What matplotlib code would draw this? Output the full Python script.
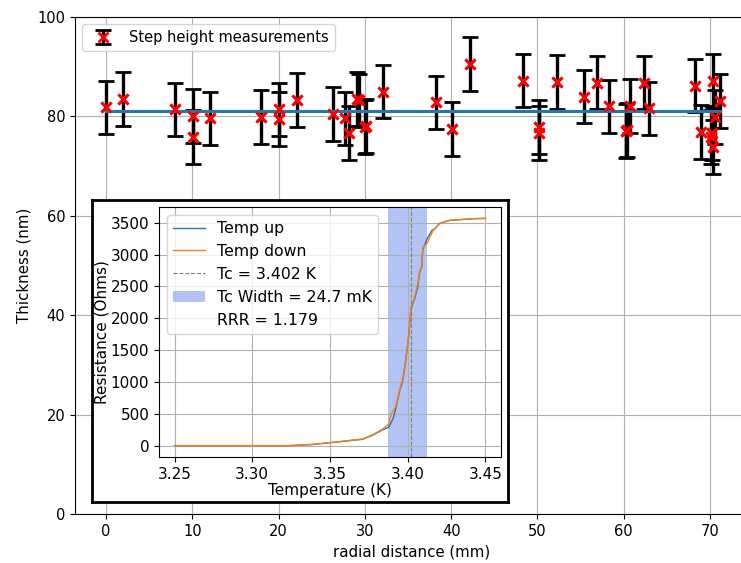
import numpy as np
import matplotlib
matplotlib.use("Agg")
import matplotlib.pyplot as plt

# step height data
radial = [0.0, 2.0, 8.0, 10.1, 10.1, 12.1, 18.0, 20.1, 20.1, 22.1, 26.3, 27.7,
          28.2, 29.1, 29.3, 30.0, 30.1, 32.1, 38.2, 40.1, 42.2, 48.3, 50.2, 50.2,
          52.3, 55.4, 56.9, 58.3, 60.4, 60.3, 60.7, 62.3, 62.9, 68.3, 68.9, 70.3,
          71.1, 70.6, 70.1, 70.3, 70.2]
thickness = [81.8, 83.5, 81.4, 80.1, 75.9, 79.6, 79.9, 81.4, 79.5, 83.3, 80.5, 79.6,
             76.6, 83.5, 83.2, 77.9, 78.1, 85.0, 82.8, 77.5, 90.5, 87.2, 77.9, 76.7,
             86.9, 84.0, 86.8, 82.0, 77.3, 77.0, 82.1, 86.8, 81.6, 86.2, 76.9, 87.1,
             83.1, 79.9, 75.9, 73.9, 76.6]
thick_err = [5.4] * len(thickness)
mean_thickness = 81.0

# resistance vs temperature (inset)
temp_down = [3.25, 3.30, 3.324, 3.339, 3.358, 3.371, 3.3775, 3.384, 3.3878, 3.3893,
             3.3921, 3.3947, 3.396, 3.397, 3.3988, 3.4005, 3.4021, 3.4043, 3.4064,
             3.4075, 3.409, 3.4097, 3.4125, 3.4161, 3.4204, 3.4268, 3.4418, 3.45]
res_down = [0, 0, 0, 20, 69, 105, 172, 262, 340, 497, 601, 862, 993, 1020, 1332,
            1699, 2169, 2326, 2534, 2718, 2821, 3110, 3180, 3370, 3486, 3538, 3564, 3570]
temp_up = [3.25, 3.30, 3.324, 3.339, 3.358, 3.371, 3.3775, 3.384, 3.3878, 3.3905,
           3.3921, 3.3947, 3.3965, 3.3985, 3.4005, 3.4021, 3.4043, 3.4064,
           3.4075, 3.409, 3.4097, 3.4125, 3.4155, 3.4170, 3.4204, 3.4268, 3.4418, 3.45]
res_up = [0, 0, 0, 18, 66, 100, 165, 250, 290, 420, 560, 850, 990, 1300, 1690,
          2150, 2300, 2480, 2700, 2810, 3080, 3250, 3380, 3400, 3490, 3538, 3564, 3570]
tc = 3.402
tc_low, tc_high = 3.3876, 3.4123
temp_ticks = [3.25, 3.30, 3.35, 3.40, 3.45]
res_ticks = [0, 500, 1000, 1500, 2000, 2500, 3000, 3500]

fig = plt.figure(figsize=(7.41, 5.63), dpi=100)
ax = fig.add_axes([75/741, 49/563, 673/741, 497/563])

ax.errorbar(radial, thickness, yerr=thick_err, fmt='x', color='red', ecolor='black',
            elinewidth=2.4, capsize=5.5, capthick=2.2, markersize=7, mew=2,
            label='Step height measurements', zorder=2)
ax.plot([min(radial), max(radial)], [mean_thickness, mean_thickness],
        color='tab:blue', lw=2.2, zorder=2.5)
ax.plot(radial, thickness, 'x', color='red', markersize=7, mew=2, zorder=3)
ax.set_xlim(-3.6, 74.4)
ax.set_ylim(0, 100)
ax.tick_params(labelsize=10.5)
ax.set_xlabel('radial distance (mm)', fontsize=10.8)
ax.set_ylabel('Thickness (nm)', fontsize=10.8)
ax.grid(True)
ax.legend(loc='upper left', fontsize=10.5)

# inset frame
frame = fig.add_axes([92/741, 61/563, 416/741, 302/563])
frame.set_xticks([])
frame.set_yticks([])
for s in frame.spines.values():
    s.set_linewidth(2)
    s.set_color('black')
frame.set_zorder(5)

fs = 11
ins = fig.add_axes([159/741, 106/563, 342/741, 250/563])
ins.set_zorder(6)
ins.plot(temp_up, res_up, lw=1, label='Temp up')
ins.plot(temp_down, res_down, lw=1, label='Temp down')
ins.axvline(tc, color='gray', ls='--', lw=0.8, label='Tc = 3.402 K')
ins.axvspan(tc_low, tc_high, color='royalblue', alpha=0.4, lw=0, label='Tc Width = 24.7 mK')
ins.plot([], [], ' ', label='RRR = 1.179')
ins.set_xticks(temp_ticks)
ins.set_yticks(res_ticks)
ins.tick_params(labelsize=fs)
ins.set_xlabel('Temperature (K)', fontsize=fs, labelpad=1)
ins.set_ylabel('Resistance (Ohms)', fontsize=fs)
ins.yaxis.set_label_coords(-0.145, 0.5)
ins.grid(True)
ins.legend(loc='upper left', fontsize=11.3)

fig.savefig('out.png', dpi=100)
